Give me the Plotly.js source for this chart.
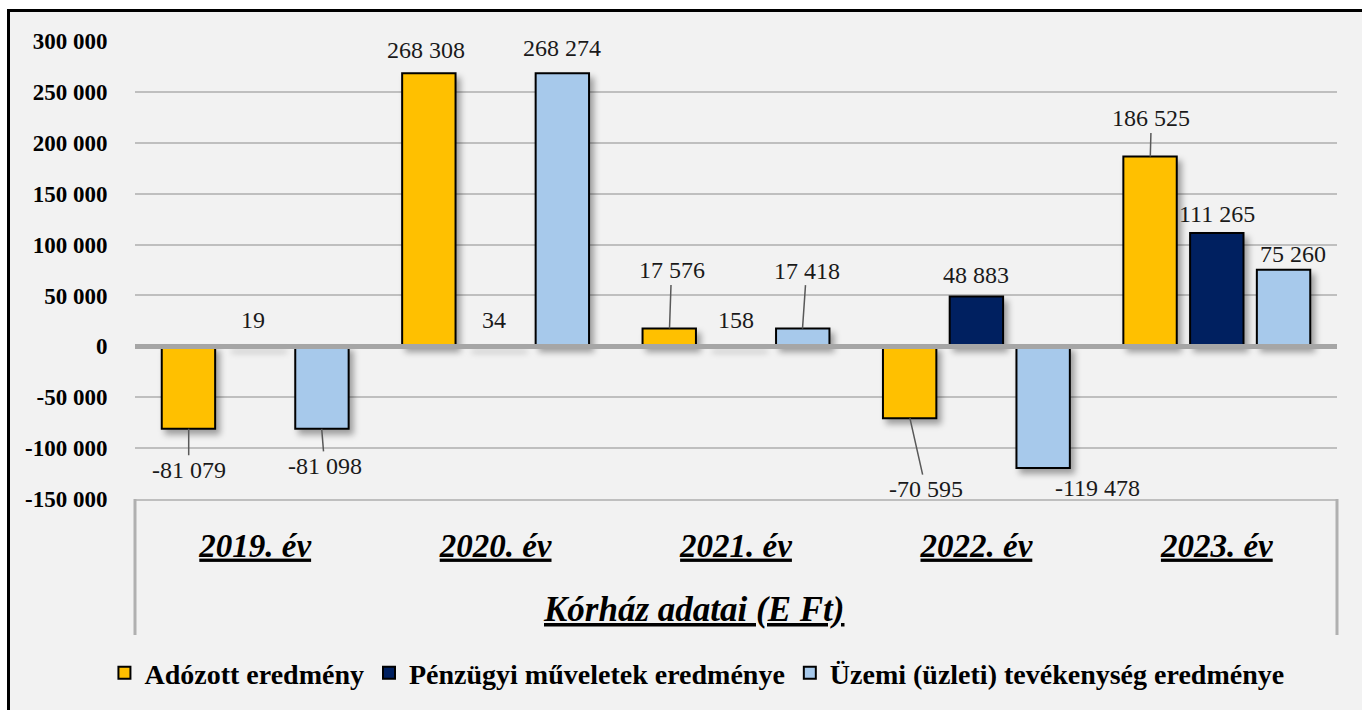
<!DOCTYPE html>
<html>
<head>
<meta charset="utf-8">
<script src="https://cdn.plot.ly/plotly-3.0.1.min.js"></script>
<style>
  html, body { margin: 0; padding: 0; background: #ffffff; }
  #wrap { position: relative; width: 1362px; height: 710px; overflow: hidden; }
  #chart { position: absolute; left: 0; top: 0; width: 1362px; height: 710px; }
  .ov { position: absolute; pointer-events: none; }
  .trace.bars .point path { filter: drop-shadow(4px 5px 3px rgba(0,0,0,0.35)); }
</style>
</head>
<body>
<div id="wrap">
  <div id="chart"></div>
  <div class="ov" style="left:0;top:0;width:1362px;height:9px;background:#fff;"></div>
  <div class="ov" style="left:0;top:0;width:7px;height:710px;background:#fff;"></div>
  <div class="ov" style="left:7px;top:9px;width:1355px;height:3px;background:#000;"></div>
  <div class="ov" style="left:7px;top:9px;width:3px;height:701px;background:#000;"></div>
</div>
<script>
// ---- data ----
const categories = ['2019. év', '2020. év', '2021. év', '2022. év', '2023. év'];
const seriesNames = ['Adózott eredmény', 'Pénzügyi műveletek eredménye', 'Üzemi (üzleti) tevékenység eredménye'];
const adozott = [-81079, 268308, 17576, -70595, 186525];
const penzugyi = [19, 34, 158, 48883, 111265];
const uzemi = [-81098, 268274, 17418, -119478, 75260];
const yTickVals = [-150000, -100000, -50000, 0, 50000, 100000, 150000, 200000, 250000, 300000];
const yTickText = ['-150 000', '-100 000', '-50 000', '0', '50 000', '100 000', '150 000', '200 000', '250 000', '300 000'];
const xTitle = 'Kórház adatai (E Ft)';

// ---- styles ----
const colors = ['#FFC000', '#002060', '#A7C9EB'];
const FONT = '"Liberation Serif", "DejaVu Serif", serif';

function fmt(v) {
  const s = String(Math.abs(v)).replace(/\B(?=(\d{3})+(?!\d))/g, ' ');
  return (v < 0 ? '-' : '') + s;
}

const series = [adozott, penzugyi, uzemi];
const traces = series.map((vals, i) => ({
  type: 'bar',
  name: seriesNames[i],
  x: categories,
  y: vals,
  marker: { color: colors[i], line: { color: '#000000', width: 2 } },
  hoverinfo: 'x+y+name'
}));

// label placement (pixel offsets of label centre from bar end); arrow = leader line
const slotShift = [-66.5, 0, 66.5];
const labelPos = [
  // adozott
  [{ax:0, ay:41, arrow:true}, {ax:-3, ay:-23}, {ax:2, ay:-58, arrow:true}, {ax:16, ay:71, arrow:true}, {ax:1, ay:-38, arrow:true}],
  // penzugyi
  [{ax:-2, ay:-26}, {ax:-2, ay:-26}, {ax:0, ay:-26}, {ax:0, ay:-22}, {ax:0, ay:-19}],
  // uzemi
  [{ax:3, ay:37, arrow:true}, {ax:0, ay:-25}, {ax:4, ay:-58, arrow:true}, {ax:55, ay:20}, {ax:10, ay:-16}]
];

const annotations = [];
series.forEach((vals, i) => {
  vals.forEach((v, j) => {
    const p = labelPos[i][j];
    const a = {
      x: categories[j], y: v, xref: 'x', yref: 'y',
      text: fmt(v),
      font: { family: FONT, size: 24, color: '#1a1a1a' },
      xanchor: 'center', yanchor: 'middle'
    };
    if (p.arrow) {
      Object.assign(a, { showarrow: true, arrowhead: 0, arrowwidth: 1.5, arrowcolor: '#595959',
        ax: p.ax, ay: p.ay, xshift: slotShift[i], standoff: 0 });
    } else {
      Object.assign(a, { showarrow: false, xshift: slotShift[i] + p.ax, yshift: -p.ay });
    }
    annotations.push(a);
  });
});

annotations.push({
  xref: 'paper', yref: 'paper', x: 0.4647, y: -0.242,
  xanchor: 'center', yanchor: 'middle', showarrow: false,
  text: xTitle,
  font: { family: FONT, size: 35, color: '#000', weight: 'bold', style: 'italic', lineposition: 'under' }
});

const layout = {
  width: 1362, height: 710,
  margin: { l: 135, r: 25, t: 41, b: 211 },
  paper_bgcolor: '#f2f2f2',
  plot_bgcolor: '#f2f2f2',
  barmode: 'group',
  bargap: 0.167,
  bargroupgap: 0.2,
  showlegend: true,
  legend: {
    orientation: 'h', xref: 'paper', yref: 'paper',
    x: 0.4675, xanchor: 'center', y: -0.38, yanchor: 'middle',
    font: { family: FONT, size: 28, color: '#000', weight: 'bold' },
    itemwidth: 30, traceorder: 'normal', bgcolor: 'rgba(0,0,0,0)'
  },
  xaxis: {
    type: 'category',
    showgrid: false,
    showline: true, linecolor: '#bfbfbf', linewidth: 2,
    ticks: 'outside', ticklen: 16, tickcolor: 'rgba(0,0,0,0)',
    tickfont: { family: FONT, size: 33, color: '#000', weight: 'bold', style: 'italic', lineposition: 'under' },
    fixedrange: true
  },
  yaxis: {
    range: [-150000, 300000],
    tickvals: yTickVals,
    ticktext: yTickText,
    showgrid: true, gridcolor: '#bfbfbf', gridwidth: 2,
    zeroline: true, zerolinecolor: '#a6a6a6', zerolinewidth: 5,
    zerolinelayer: 'above traces',
    ticks: 'outside', ticklen: 22, tickcolor: 'rgba(0,0,0,0)',
    tickfont: { family: FONT, size: 23, color: '#000', weight: 'bold' },
    showline: false,
    fixedrange: true
  },
  shapes: [
    { type: 'line', xref: 'paper', yref: 'paper', x0: 0, x1: 0, y0: 0, y1: -0.297, line: { color: '#b0b0b0', width: 3 } },
    { type: 'line', xref: 'paper', yref: 'paper', x0: 1, x1: 1, y0: 0, y1: -0.297, line: { color: '#b0b0b0', width: 3 } }
  ],
  annotations: annotations
};

Plotly.newPlot('chart', traces, layout, { displayModeBar: false, staticPlot: true });
</script>
</body>
</html>
